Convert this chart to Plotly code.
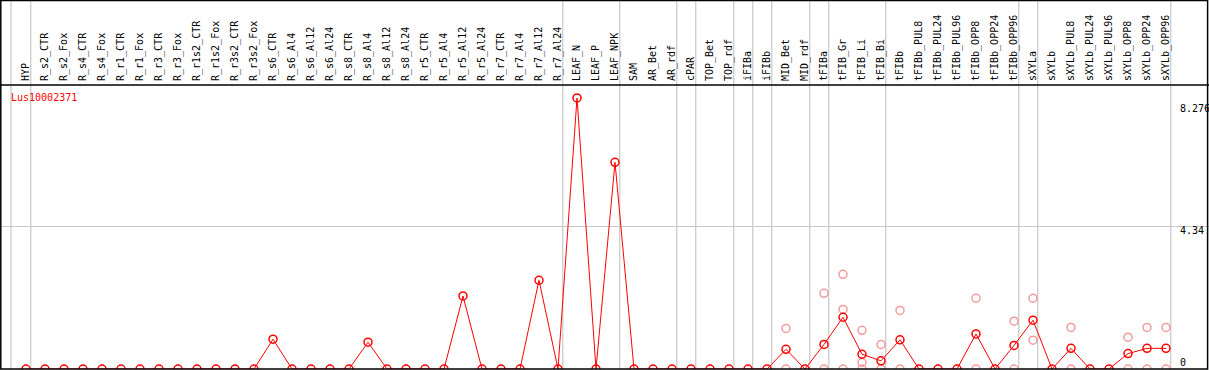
import plotly.graph_objects as go

categories = ["HYP", "R_s2_CTR", "R_s2_Fox", "R_s4_CTR", "R_s4_Fox", "R_r1_CTR", "R_r1_Fox",
              "R_r3_CTR", "R_r3_Fox", "R_r1s2_CTR", "R_r1s2_Fox", "R_r3s2_CTR", "R_r3s2_Fox",
              "R_s6_CTR", "R_s6_Al4", "R_s6_Al12", "R_s6_Al24", "R_s8_CTR", "R_s8_Al4", "R_s8_Al12",
              "R_s8_Al24", "R_r5_CTR", "R_r5_Al4", "R_r5_Al12", "R_r5_Al24", "R_r7_CTR", "R_r7_Al4",
              "R_r7_Al12", "R_r7_Al24", "LEAF_N", "LEAF_P", "LEAF_NPK", "SAM", "AR_Bet", "AR_rdf",
              "cPAR", "TOP_Bet", "TOP_rdf", "iFIBa", "iFIBb", "MID_Bet", "MID_rdf", "tFIBa",
              "tFIB_Gr", "tFIB_Li", "tFIB_Bi", "tFIBb", "tFIBb_PUL8", "tFIBb_PUL24", "tFIBb_PUL96",
              "tFIBb_OPP8", "tFIBb_OPP24", "tFIBb_OPP96", "sXYLa", "sXYLb", "sXYLb_PUL8",
              "sXYLb_PUL24", "sXYLb_PUL96", "sXYLb_OPP8", "sXYLb_OPP24", "sXYLb_OPP96"]

mean_values = [0, 0, 0, 0, 0, 0, 0, 0, 0, 0, 0, 0, 0,
               0.91, 0, 0, 0, 0, 0.82, 0, 0, 0, 0, 2.23, 0, 0, 0, 2.71, 0,
               8.276, 0, 6.31,
               0, 0, 0, 0, 0, 0, 0, 0,
               0.60, 0, 0.75, 1.58, 0.45, 0.25, 0.89, 0, 0, 0, 1.07, 0, 0.72,
               1.49, 0, 0.63, 0, 0, 0.47, 0.63, 0.63]

rep_categories = ["MID_Bet", "MID_Bet", "tFIBa", "tFIBa", "tFIB_Gr", "tFIB_Gr", "tFIB_Gr",
                  "tFIB_Li", "tFIB_Li", "tFIB_Li", "tFIB_Bi", "tFIB_Bi", "tFIBb", "tFIBb",
                  "tFIBb_OPP8", "tFIBb_OPP8", "tFIBb_OPP96", "tFIBb_OPP96", "sXYLa", "sXYLa",
                  "sXYLb_PUL8", "sXYLb_PUL8", "sXYLb_OPP8", "sXYLb_OPP8",
                  "sXYLb_OPP24", "sXYLb_OPP24", "sXYLb_OPP96", "sXYLb_OPP96"]
rep_values = [1.24, 0, 2.31, 0, 2.89, 1.82, 0,
              1.18, 0.20, 0, 0.75, 0, 1.79, 0,
              2.16, 0, 1.46, 0, 2.16, 0.88,
              1.27, 0, 0.97, 0,
              1.27, 0, 1.27, 0]

# group boundaries: last category of each group
group_ends = ["HYP", "R_r7_Al24", "LEAF_NPK", "AR_rdf", "cPAR", "TOP_rdf", "iFIBa", "iFIBb",
              "MID_rdf", "tFIBa", "tFIB_Bi", "tFIBb_OPP96", "sXYLa", "sXYLb_OPP96"]

y_ticks = [8.276, 4.34, 0]
y_tick_text = ["8.276", "4.34", "0"]
gene = "Lus10002371"

W, H = 1209, 370
TOP, BOT = 85, 1
PX_PER_STEP = 19
X0_PX = 26
PX_PER_UNIT = 32.75
plot_h = H - TOP - BOT

idx = {c: i for i, c in enumerate(categories)}
font = "DejaVu Sans Mono"

fig = go.Figure()
fig.add_trace(go.Scatter(
    x=[idx[c] for c in rep_categories], y=rep_values, mode="markers",
    marker=dict(symbol="circle-open", size=8, color="#f29a9a", line=dict(width=1.5, color="#f29a9a")),
    hoverinfo="skip", showlegend=False))
fig.add_trace(go.Scatter(
    x=list(range(len(categories))), y=mean_values, mode="lines+markers",
    line=dict(color="#ff0000", width=1),
    marker=dict(symbol="circle-open", size=8, color="#ff0000", line=dict(width=1.5, color="#ff0000")),
    showlegend=False))

shapes = []
# separators
sep_x = [-0.79] + [idx[c] + 0.25 for c in group_ends]
top_paper = 1 + (TOP - 0.5) / plot_h
for sx in sep_x:
    shapes.append(dict(type="line", xref="x", yref="paper", x0=sx, x1=sx, y0=0, y1=top_paper,
                       line=dict(color="#c8c8c8", width=1.2), layer="below"))
# header line
shapes.append(dict(type="line", xref="paper", yref="paper", x0=0, x1=1, y0=1, y1=1,
                   line=dict(color="black", width=1.5)))
# border
shapes.append(dict(type="rect", xref="paper", yref="paper", x0=0.8 / W, x1=1207.6 / W,
                   y0=0, y1=top_paper, line=dict(color="black", width=1.5)))

annotations = [dict(text=gene, xref="paper", yref="paper", x=9 / W, y=(H - BOT - 97) / plot_h,
                    xanchor="left", yanchor="middle", showarrow=False,
                    font=dict(family=font, size=10, color="#ff0000"))]
label_shift = [-11, -4, 7]
for v, t, s in zip(y_ticks, y_tick_text, label_shift):
    annotations.append(dict(text=t, xref="paper", yref="y", x=1178 / W, y=v, yshift=s,
                            xanchor="left", yanchor="middle", showarrow=False,
                            font=dict(family=font, size=10, color="black")))

fig.update_layout(
    width=W, height=H, margin=dict(l=0, r=0, t=TOP, b=BOT, pad=0),
    paper_bgcolor="white", plot_bgcolor="white",
    xaxis=dict(range=[-X0_PX / PX_PER_STEP, (W - X0_PX) / PX_PER_STEP], side="top",
               tickmode="array", tickvals=list(range(len(categories))), ticktext=categories,
               tickangle=-90, tickfont=dict(family=font, size=10, color="black"),
               ticklabelstandoff=3,
               showgrid=False, zeroline=False, showline=False, ticks=""),
    yaxis=dict(range=[0, plot_h / PX_PER_UNIT], tickmode="array", tickvals=[4.34],
               showticklabels=False, showgrid=True, gridcolor="#c8c8c8", gridwidth=1.2,
               zeroline=False, showline=False, ticks=""),
    shapes=shapes, annotations=annotations,
)
fig.write_html("out.html", config={"displayModeBar": False},
               post_script="document.body.style.margin='0';document.body.style.overflow='hidden';")
